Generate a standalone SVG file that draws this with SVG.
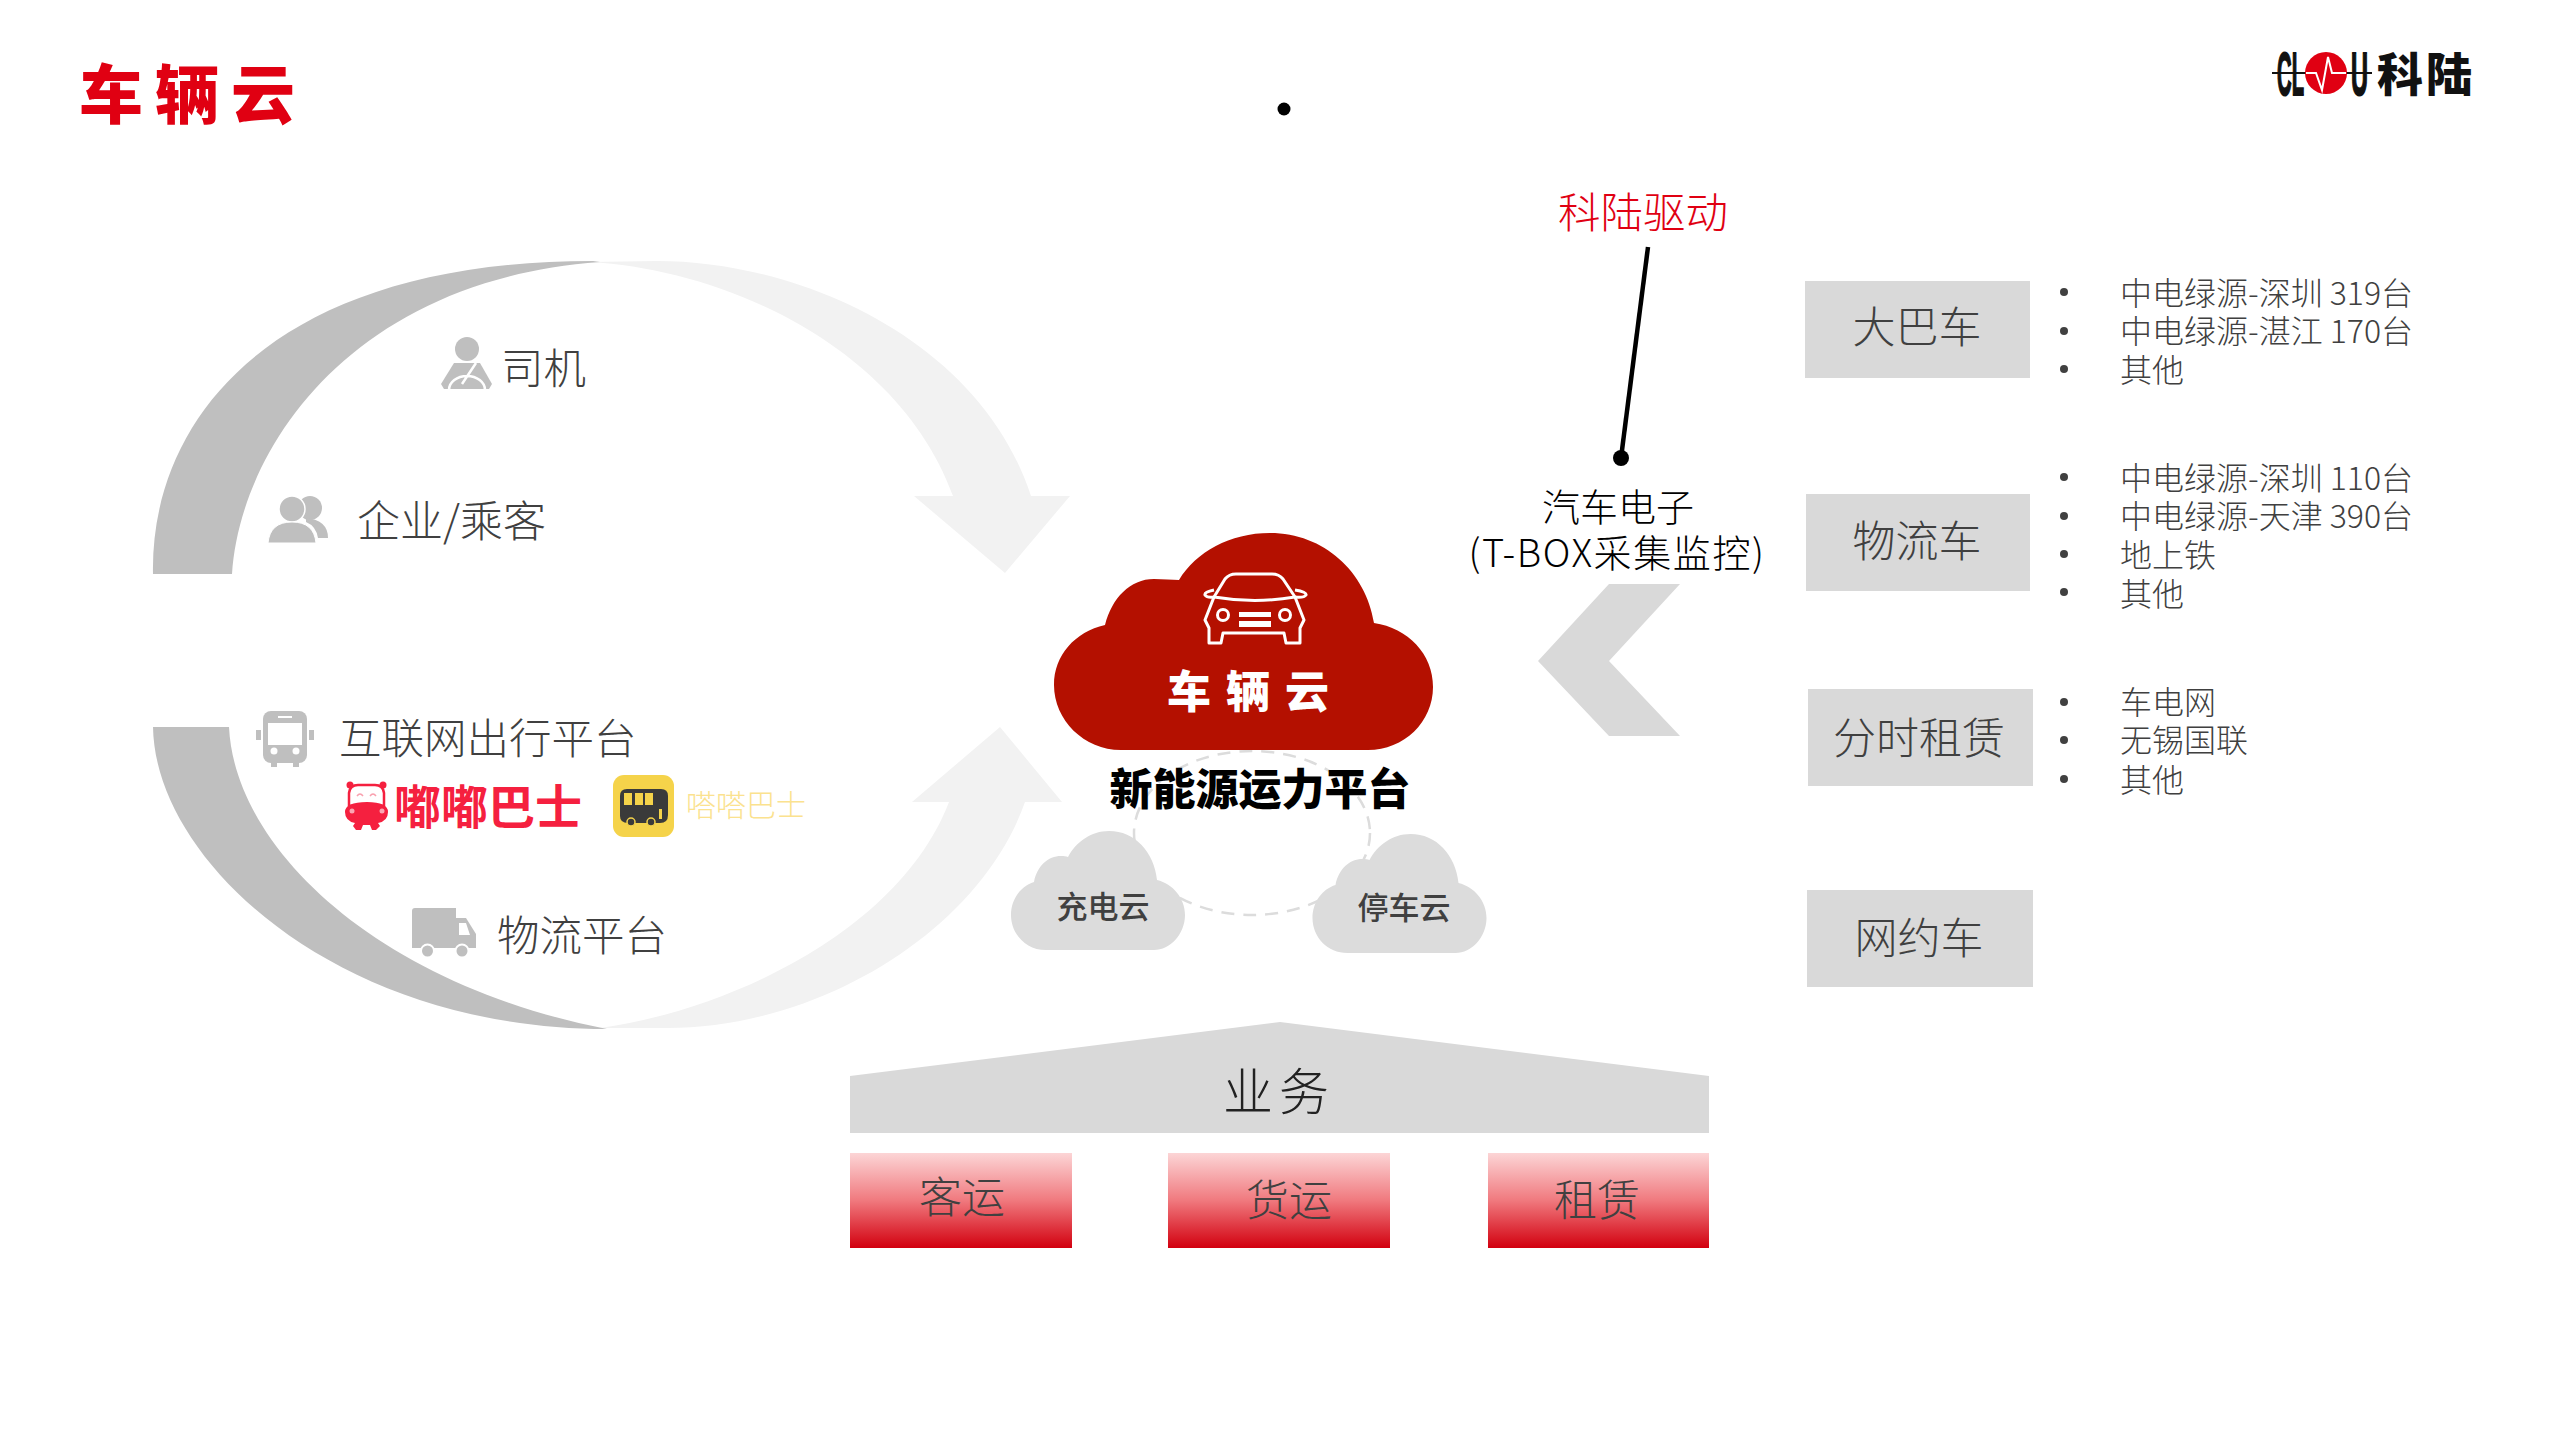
<svg xmlns="http://www.w3.org/2000/svg" width="2560" height="1440" viewBox="0 0 2560 1440">
<style>
text{font-family:"Noto Sans CJK SC","Noto Sans",sans-serif;fill:#404040;font-weight:300}
.m{text-anchor:middle;dominant-baseline:central}
.l{dominant-baseline:central;font-size:42.5px}
.li{font-size:32px;dominant-baseline:central}
.box{fill:#d9d9d9}
.red{fill:url(#rg)}
.i{fill:#bfbfbf}
.w{fill:#fff}
.b{font-size:43px}
.sm{font-size:31px;font-weight:500}
.bul{fill:#404040}
.lg{font-size:62px;font-weight:700;fill:#111;stroke:#111;stroke-width:2;font-family:"Liberation Sans",sans-serif}
</style>
<defs>
<linearGradient id="rg" x1="0" y1="0" x2="0" y2="1"><stop offset="0" stop-color="#fcd5d6"/><stop offset=".5" stop-color="#f0797e"/><stop offset="1" stop-color="#d2000f"/></linearGradient>
<path id="sc" d="M1046,950 C1026,950 1011,934 1011,915 C1011,899 1021,886 1034,882 C1037,866 1048,856 1061,856 C1064,856 1066,856 1068,857 C1076,842 1091,831 1109,831 C1135,831 1154,852 1157,880 C1173,884 1185,898 1185,915 C1185,934 1170,950 1154,950 Z"/>
</defs>
<rect width="2560" height="1440" fill="#fff"/>
<g id="title"><text x="79" y="90" style="font-size:64px;font-weight:900;fill:#e00012;dominant-baseline:central;letter-spacing:12px">车辆云</text></g>
<circle id="dot" cx="1284" cy="109" r="6.5" fill="#000"/>
<g id="logo">
<text class="lg" x="2277" y="95" textLength="27" lengthAdjust="spacingAndGlyphs">CL</text>
<text class="lg" x="2351" y="95" textLength="17" lengthAdjust="spacingAndGlyphs">U</text>
<path d="M2272,73H2372" stroke="#111" stroke-width="2"/>
<circle cx="2326" cy="73" r="21" fill="#e00012"/>
<path d="M2306,73H2316L2322,90L2328,57L2332,73H2346" fill="none" stroke="#fff" stroke-width="2"/>
<text x="2377" y="71" style="font-size:46px;font-weight:900;fill:#111;dominant-baseline:central;letter-spacing:3px">科陆</text>
</g>
<g id="connectors">
<path fill="#f2f2f2" d="M590,262 L657,261 C800,261 980,340 1031,496 L1070,496 L1005,573 L914,496 L953,496 C900,350 730,270 590,262Z"/>
<path fill="#bfbfbf" d="M153,574 C150,425 265,261 593,261 L600,262 C350,280 240,450 232,574Z"/>
<path fill="#f2f2f2" d="M600,1028 L667,1028 C820,1028 980,930 1025,802 L1062,802 L1000,727 L912,802 L949,802 C900,930 730,1010 600,1028Z"/>
<path fill="#bfbfbf" d="M153,727 C155,860 335,1029 607,1029 C380,985 235,850 229,727Z"/>
<path id="chevron" fill="#d9d9d9" d="M1609,584H1680L1609,661L1680,736H1609L1538,661Z"/>
<path d="M1648,247L1621,458" stroke="#000" stroke-width="4.5" fill="none"/>
<circle cx="1621" cy="458" r="8" fill="#000"/>
<ellipse cx="1252" cy="833" rx="118" ry="82" fill="none" stroke="#dcdcdc" stroke-width="2.5" stroke-dasharray="13 9"/>
</g>
<g id="driver">
<circle class="i" cx="467" cy="349" r="12"/>
<path class="i" d="M454,363H480L492,384L489,389H444L441,384Z"/>
<path d="M476,363L462,384M449,390A18,14 0 0 1 485,390" stroke="#fff" stroke-width="2.5" fill="none"/>
<text class="l" x="501" y="365">司机</text>
</g>
<g id="people">
<circle class="i" cx="310" cy="508" r="12"/>
<path class="i" d="M306,518Q328,520 328,538H318Q316,526 306,522Z"/>
<circle class="i" cx="292" cy="509" r="13" stroke="#fff" stroke-width="1.5"/>
<path class="i" d="M268,543Q270,522 292,522Q314,522 316,543Z" stroke="#fff" stroke-width="1"/>
<text class="l" x="357" y="518" style="font-size:43px">企业/乘客</text>
</g>
<g id="platform">
<path class="i" d="M256,730h5v10h-5zM309,730h5v10h-5zM271,760h6v7h-6zM293,760h6v7h-6z"/>
<rect class="i" x="263" y="711" width="44" height="52" rx="8"/>
<rect class="w" x="268" y="723" width="34" height="22"/><rect class="w" x="278" y="716" width="14" height="2"/>
<circle class="w" cx="274" cy="751" r="3.5"/><circle class="w" cx="296" cy="751" r="3.5"/>
<text class="l" x="339" y="735">互联网出行平台</text>
</g>
<g id="dudu">
<circle cx="350" cy="785" r="3.5" fill="#f5203f"/><circle cx="383" cy="785" r="3.5" fill="#f5203f"/>
<path fill="#fff" stroke="#f5203f" stroke-width="2.5" d="M349,806V793Q350,785 358,785H375Q383,785 384,793V806Z"/>
<path d="M357,796q3,-4 6,0M370,796q3,-4 6,0" fill="none" stroke="#f9a0ae" stroke-width="1.5"/>
<path fill="#f5203f" d="M345,812Q345,802 367,802Q388,802 388,812Q388,821 378,823L380,826L376,830H372L370,825H363L361,830H356L353,826L355,823Q345,821 345,812Z"/>
<circle cx="352" cy="811" r="2.5" fill="#fff" opacity=".6"/><circle cx="382" cy="811" r="2.5" fill="#fff" opacity=".6"/>
<text class="m" x="488" y="803" style="font-size:47px;font-weight:700;fill:#f5203f">嘟嘟巴士</text>
</g>
<g id="dada">
<rect x="613" y="775" width="61" height="62" rx="11" fill="#f5d34a"/>
<path d="M627,789H661Q668,789 668,796V815Q668,823 660,823H628Q620,823 620,816V796Q620,789 627,789Z" fill="#3a3a3a"/>
<path fill="#f5d34a" d="M624,793h8v12h-8zM635,793h8v12h-8zM645,793h8v12h-8zM659,809h3v10h-3z"/>
<circle cx="631" cy="822" r="4" fill="#3a3a3a" stroke="#f5d34a" stroke-width="1.5"/><circle cx="651" cy="822" r="4" fill="#3a3a3a" stroke="#f5d34a" stroke-width="1.5"/>
<text class="m" x="746" y="803" style="font-size:30px;font-weight:300;fill:#fbe28f">嗒嗒巴士</text>
</g>
<g id="logistics">
<path class="i" d="M412,911Q412,908 415,908H456V918H466L476,934V948H412Z"/>
<path class="w" d="M459,923H466L470,935H459Z"/>
<circle class="i" cx="427.5" cy="951" r="6.5" stroke="#fff" stroke-width="2"/><circle class="i" cx="462" cy="951" r="6.5" stroke="#fff" stroke-width="2"/>
<text class="l" x="497" y="932">物流平台</text>
</g>
<g id="main-cloud">
<path fill="#b41000" d="M1121,750 C1084,750 1054,720 1054,685 C1054,655 1075,632 1105,625 C1112,598 1130,579 1154,579 C1163,579 1172,580 1179,580 C1196,552 1230,533 1270,533 C1324,533 1366,572 1374,623 C1408,628 1433,654 1433,687 C1433,722 1404,750 1368,750 Z"/>
<g fill="none" stroke="#fff" stroke-width="3" stroke-linejoin="round">
<path d="M1214,597L1225,579Q1229,574 1236,574H1272Q1279,574 1283,579L1295,597Q1255,604 1214,597Z"/>
<path d="M1214,597L1205,620L1209,628V643H1221L1223,633H1284L1286,643H1300V628L1304,620L1295,597"/>
<path d="M1214,590Q1204,592 1205,595Q1207,598 1214,597M1295,590Q1307,592 1306,595Q1304,598 1295,597"/>
<circle cx="1223" cy="615" r="5.5"/><circle cx="1285" cy="615" r="5.5"/>
</g>
<path class="w" d="M1239,612h32v5h-32zM1239,621h32v6h-32z"/>
<text x="1167" y="689" style="font-size:44px;font-weight:900;fill:#fff;dominant-baseline:central;letter-spacing:15px">车辆云</text>
</g>
<g id="platform-label"><text class="m" x="1260" y="786" style="font-size:43px;font-weight:900;fill:#000">新能源运力平台</text></g>
<g id="charge-cloud"><use href="#sc" fill="#dcdcdc"/><text class="m sm" x="1103" y="904">充电云</text></g>
<g id="park-cloud"><use href="#sc" x="301.5" y="3" fill="#dcdcdc"/><text class="m sm" x="1404" y="905">停车云</text></g>
<g id="tbox">
<text class="m" x="1643" y="209" style="font-size:42.5px;fill:#e00012">科陆驱动</text>
<text class="m" x="1618" y="504" style="font-size:38px;fill:#000">汽车电子</text>
<text class="m" x="1617" y="550" style="font-size:38px;fill:#000;letter-spacing:1.6px">(T-BOX采集监控)</text>
</g>
<g id="bus"><rect class="box" x="1805" y="281" width="225" height="97"/><text class="m b" x="1917" y="324">大巴车</text>
<circle class="bul" cx="2064" cy="292" r="4"/><circle class="bul" cx="2064" cy="331" r="4"/><circle class="bul" cx="2064" cy="369" r="4"/>
<text class="li" x="2120" y="291">中电绿源-深圳 319台</text><text class="li" x="2120" y="329">中电绿源-湛江 170台</text><text class="li" x="2120" y="368">其他</text></g>
<g id="truck"><rect class="box" x="1806" y="494" width="224" height="97"/><text class="m b" x="1917" y="538">物流车</text>
<circle class="bul" cx="2064" cy="477" r="4"/><circle class="bul" cx="2064" cy="516" r="4"/><circle class="bul" cx="2064" cy="554" r="4"/><circle class="bul" cx="2064" cy="592" r="4"/>
<text class="li" x="2120" y="476">中电绿源-深圳 110台</text><text class="li" x="2120" y="514">中电绿源-天津 390台</text><text class="li" x="2120" y="553">地上铁</text><text class="li" x="2120" y="592">其他</text></g>
<g id="rental"><rect class="box" x="1808" y="689" width="225" height="97"/><text class="m b" x="1919" y="735">分时租赁</text>
<circle class="bul" cx="2064" cy="702" r="4"/><circle class="bul" cx="2064" cy="740" r="4"/><circle class="bul" cx="2064" cy="779" r="4"/>
<text class="li" x="2120" y="700">车电网</text><text class="li" x="2120" y="738">无锡国联</text><text class="li" x="2120" y="778">其他</text></g>
<g id="ride"><rect class="box" x="1807" y="890" width="226" height="97"/><text class="m b" x="1919" y="935">网约车</text></g>
<g id="business"><path class="box" d="M850,1076L1280,1022L1709,1076V1133H850Z"/><text class="m" x="1279" y="1088" style="font-size:50px;fill:#222;letter-spacing:6px">业务</text></g>
<g id="passenger"><rect class="red" x="850" y="1153" width="222" height="95"/><text class="m b" x="962" y="1194">客运</text></g>
<g id="freight"><rect class="red" x="1168" y="1153" width="222" height="95"/><text class="m b" x="1289" y="1197">货运</text></g>
<g id="lease"><rect class="red" x="1488" y="1153" width="221" height="95"/><text class="m b" x="1597" y="1197">租赁</text></g>
</svg>
